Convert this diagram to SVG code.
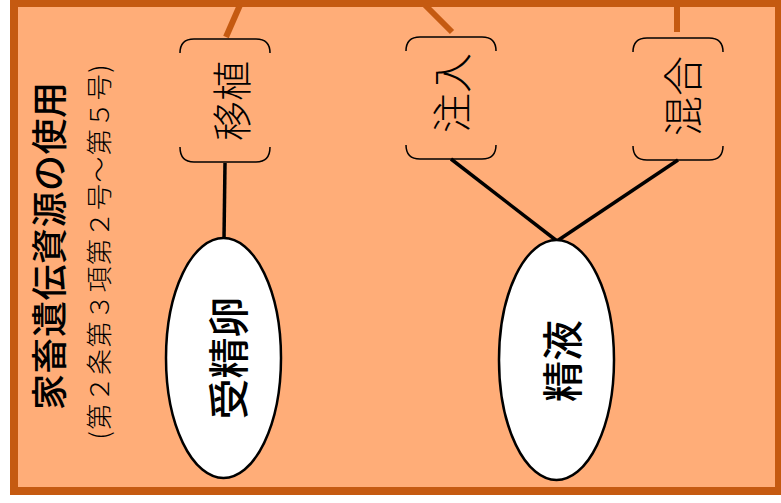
<svg xmlns="http://www.w3.org/2000/svg" width="781" height="503" viewBox="0 0 781 503">
<style>
.bg{fill:#FFAD78;stroke:#C55A11;stroke-width:8}
.feed{stroke:#C55A11;stroke-width:6;fill:none}
.br{fill:none;stroke:#000;stroke-width:1.5}
.ell{fill:#fff;stroke:#000;stroke-width:2.5}
.con{stroke:#000;stroke-width:3.5;fill:none}
text{font-family:"Noto Sans CJK JP","Noto Sans CJK SC",sans-serif;fill:#000;text-anchor:middle;dominant-baseline:central}
.lbl{font-size:40px;font-weight:300}
.ellt{font-size:41px;font-weight:500}
.title{font-size:36px;font-weight:500}
.sub{font-size:26px;font-weight:300}
</style>
<rect x="0" y="0" width="781" height="503" fill="#fff"/>
<g id="frame">
<rect class="bg" x="14" y="3" width="765" height="488"/>
<text class="title" transform="translate(47,246) rotate(-90)" textLength="328" lengthAdjust="spacing">家畜遺伝資源の使用</text>
<text class="sub" transform="translate(97,252) rotate(-90)" textLength="375" lengthAdjust="spacing">(第２条第３項第２号～第５号)</text>
</g>
<g id="connectors">
<line class="feed" x1="240" y1="5" x2="226" y2="37"/>
<line class="feed" x1="425" y1="5" x2="452" y2="32"/>
<line class="feed" x1="677" y1="5" x2="677" y2="32"/>
<line class="con" x1="225" y1="163" x2="224" y2="239"/>
<line class="con" x1="451" y1="159" x2="557" y2="241"/>
<line class="con" x1="678" y1="160" x2="557" y2="241"/>
</g>
<g id="node-ishoku">
<path class="br" d="M180,53 Q180,39 194,39 L256,39 Q270,39 270,53"/>
<path class="br" d="M180,147 Q180,162 194,162 L256,162 Q270,162 270,147"/>
<text class="lbl" transform="translate(230,101) rotate(-90)">移植</text>
</g>
<g id="node-chunyu">
<path class="br" d="M406,51 Q406,37 420,37 L482,37 Q496,37 496,51"/>
<path class="br" d="M406,145 Q406,159 420,159 L482,159 Q496,159 496,145"/>
<text class="lbl" transform="translate(450,93) rotate(-90)">注入</text>
</g>
<g id="node-kongo">
<path class="br" d="M633,52 Q633,38 647,38 L709,38 Q723,38 723,52"/>
<path class="br" d="M633,146 Q633,160 647,160 L709,160 Q723,160 723,146"/>
<text class="lbl" transform="translate(681,96) rotate(-90)">混合</text>
</g>
<g id="node-jusei">
<ellipse class="ell" cx="223.5" cy="358" rx="57.5" ry="120"/>
<text class="ellt" transform="translate(226,358) rotate(-90)">受精卵</text>
</g>
<g id="node-seieki">
<ellipse class="ell" cx="556.5" cy="360" rx="57.5" ry="120"/>
<text class="ellt" transform="translate(560,361) rotate(-90)">精液</text>
</g>
</svg>
